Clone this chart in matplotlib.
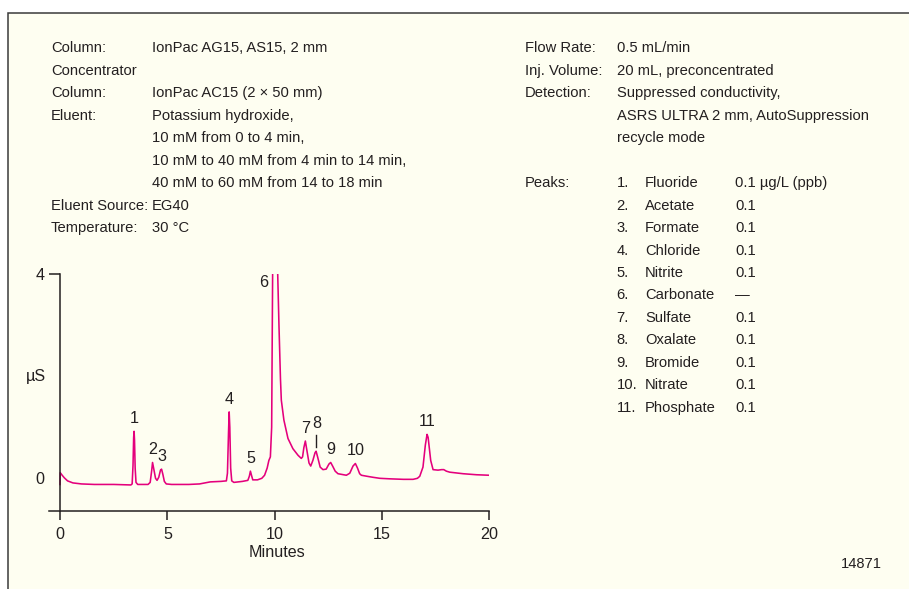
import matplotlib
matplotlib.use('Agg')
import matplotlib.pyplot as plt
from matplotlib.patches import Rectangle

# chromatogram trace (minutes, uS)
trace_time = [0.00, 0.01, 0.10, 0.20, 0.35, 0.60, 1.00, 1.60, 2.50, 3.30,
              3.36, 3.40, 3.43, 3.45, 3.47, 3.50, 3.54, 3.62,
              4.10, 4.20, 4.27, 4.31, 4.36, 4.45, 4.52, 4.60, 4.68, 4.73, 4.79, 4.86, 4.95,
              5.20, 6.00, 6.50, 7.00, 7.50, 7.75,
              7.80, 7.85, 7.88, 7.91, 7.95, 8.00, 8.10, 8.50, 8.75,
              8.82, 8.87, 8.92, 8.98, 9.20, 9.40, 9.53, 9.65, 9.73, 9.80, 9.86,
              9.89, 9.92, 10.00, 10.05, 10.10, 10.13, 10.20, 10.27, 10.31, 10.43,
              10.62, 10.85, 11.09, 11.24, 11.30,
              11.36, 11.43, 11.50, 11.60, 11.68, 11.78,
              11.88, 11.93, 12.00, 12.12, 12.25, 12.40,
              12.53, 12.61, 12.70, 12.82, 12.95, 13.34,
              13.50, 13.65, 13.76, 13.86, 13.96, 14.04, 14.30, 14.58, 14.90,
              15.36, 16.00, 16.45, 16.65, 16.76, 16.91, 17.02, 17.10, 17.15,
              17.27, 17.38, 17.61, 17.78, 17.88, 18.00, 18.16, 18.78, 19.40, 20.00]
trace_signal = [-0.12, 0.11, 0.06, 0.01, -0.05, -0.09, -0.11, -0.12, -0.12, -0.13,
                -0.11, 0.25, 0.80, 0.92, 0.75, 0.20, -0.08, -0.12,
                -0.12, -0.08, 0.15, 0.31, 0.20, 0.00, -0.04, 0.02, 0.16, 0.18, 0.08, -0.06, -0.11,
                -0.12, -0.12, -0.11, -0.07, -0.06, -0.05,
                0.10, 0.90, 1.30, 1.00, 0.20, -0.05, -0.08, -0.06, -0.04,
                0.04, 0.14, 0.06, -0.03, -0.03, 0.00, 0.06, 0.20, 0.35, 0.42, 1.00,
                3.00, 5.00, 8.00, 9.00, 6.00, 4.20, 3.00, 1.95, 1.53, 1.14,
                0.78, 0.58, 0.45, 0.39, 0.42,
                0.60, 0.73, 0.55, 0.30, 0.24, 0.35,
                0.50, 0.53, 0.42, 0.22, 0.17, 0.18,
                0.28, 0.31, 0.24, 0.14, 0.09, 0.06,
                0.10, 0.24, 0.29, 0.20, 0.09, 0.06, 0.04, 0.02, 0.00,
                -0.01, -0.02, -0.02, 0.00, 0.04, 0.22, 0.65, 0.86, 0.80,
                0.35, 0.17, 0.16, 0.17, 0.17, 0.14, 0.12, 0.09, 0.07, 0.06]

# peak labels: number, retention time, apex height (uS)
peak_numbers = ['1', '2', '3', '4', '5', '6', '7', '8', '9', '10', '11']
peak_times = [3.44, 4.31, 4.74, 7.87, 8.88, 10.0, 11.43, 11.94, 12.63, 13.76, 17.10]
peak_heights = [0.92, 0.31, 0.18, 1.30, 0.14, 4.0, 0.73, 0.53, 0.31, 0.29, 0.86]

analytes = ['Fluoride', 'Acetate', 'Formate', 'Chloride', 'Nitrite', 'Carbonate',
            'Sulfate', 'Oxalate', 'Bromide', 'Nitrate', 'Phosphate']
amounts = ['0.1 µg/L (ppb)', '0.1', '0.1', '0.1', '0.1', '—',
           '0.1', '0.1', '0.1', '0.1', '0.1']

cond_left = [('Column:', 'IonPac AG15, AS15, 2 mm'),
             ('Concentrator', ''),
             ('Column:', 'IonPac AC15 (2 × 50 mm)'),
             ('Eluent:', 'Potassium hydroxide,'),
             ('', '10 mM from 0 to 4 min,'),
             ('', '10 mM to 40 mM from 4 min to 14 min,'),
             ('', '40 mM to 60 mM from 14 to 18 min'),
             ('Eluent Source:', 'EG40'),
             ('Temperature:', '30 °C')]
cond_right = [('Flow Rate:', '0.5 mL/min'),
              ('Inj. Volume:', '20 mL, preconcentrated'),
              ('Detection:', 'Suppressed conductivity,'),
              ('', 'ASRS ULTRA 2 mm, AutoSuppression'),
              ('', 'recycle mode')]

x_ticks = [0, 5, 10, 15, 20]
fig_id = '14871'

TRACE = '#E4007C'
INK = '#231F20'
CREAM = '#FEFEF1'
FS = 10.6      # condition text
FS_NUM = 11.6  # axis numbers and peak numbers

plt.rcParams['font.family'] = ['Liberation Sans', 'DejaVu Sans']
plt.rcParams['text.color'] = INK

W, H = 909, 589
fig = plt.figure(figsize=(W / 100, H / 100), dpi=100, facecolor='white')


def fx(x):
    return x / W


def fy(y):
    return 1 - y / H


# cream panel with the frame only on top and left
fig.add_artist(Rectangle((fx(8), -0.1), 1.2, fy(13) + 0.1, transform=fig.transFigure,
                         facecolor=CREAM, edgecolor='#3a3a3a', lw=1.1, zorder=-5))

# conditions text
pitch = 22.45
base0 = 52.5
for i, (lab, val) in enumerate(cond_left):
    y = fy(base0 + i * pitch)
    fig.text(fx(51), y, lab, fontsize=FS, va='baseline')
    fig.text(fx(151.5), y, val, fontsize=FS, va='baseline')
for i, (lab, val) in enumerate(cond_right):
    y = fy(base0 + i * pitch)
    fig.text(fx(525), y, lab, fontsize=FS, va='baseline')
    fig.text(fx(616.7), y, val, fontsize=FS, va='baseline')

peaks_row = 6
fig.text(fx(525), fy(base0 + peaks_row * pitch), 'Peaks:', fontsize=FS, va='baseline')
for i, (name, amt) in enumerate(zip(analytes, amounts)):
    y = fy(base0 + (peaks_row + i) * pitch)
    fig.text(fx(616.7), y, f'{i + 1}.', fontsize=FS, va='baseline')
    fig.text(fx(645), y, name, fontsize=FS, va='baseline')
    fig.text(fx(735), y, amt, fontsize=FS, va='baseline')

fig.text(fx(861.7), fy(564.3), fig_id, fontsize=FS, ha='center', va='center')

# chromatogram
ax = fig.add_axes([fx(49.3), 1 - 510.7 / H, 440 / W, (510.7 - 274) / H])
ax.patch.set_visible(False)
ax.plot(trace_time, trace_signal, color=TRACE, lw=1.15, solid_joinstyle='round')
ax.set_xlim(-0.5, 20)
ax.set_ylim(-0.634, 4.0)

for s in ['top', 'right']:
    ax.spines[s].set_visible(False)
ax.spines['left'].set_position(('data', 0))
for s in ['left', 'bottom']:
    ax.spines[s].set_color(INK)
    ax.spines[s].set_linewidth(1.1)

ax.set_xticks(x_ticks)
ax.set_xticklabels([str(t) for t in x_ticks])
ax.set_yticks([0, 4])
ax.set_yticklabels(['0', '4'])
ax.tick_params(axis='x', direction='out', length=6.6, width=1.1, color=INK,
               labelsize=FS_NUM, pad=5, labelcolor=INK)
ax.tick_params(axis='y', direction='out', length=7.7, width=1.1, color=INK,
               labelsize=FS_NUM, pad=3.5, labelcolor=INK)
ax.yaxis.get_major_ticks()[0].tick1line.set_visible(False)

fig.text(fx(35.5), fy(376.7), 'µS', fontsize=FS_NUM, ha='center', va='center')
fig.text(fx(276.7), fy(552.3), 'Minutes', fontsize=FS_NUM, ha='center', va='center')

# peak numbers above each apex
for num, t, h in zip(peak_numbers, peak_times, peak_heights):
    if num == '6':
        ax.text(t - 0.53, h - 0.17, num, fontsize=FS_NUM, ha='center', va='center')
    elif num == '8':
        ax.text(t + 0.02, h + 0.54, num, fontsize=FS_NUM, ha='center', va='center')
        ax.plot([t, t], [h + 0.09, h + 0.32], color=INK, lw=1.0)
    else:
        ax.text(t, h + 0.25, num, fontsize=FS_NUM, ha='center', va='center')

fig.savefig('out.png', dpi=100, facecolor=fig.get_facecolor())
